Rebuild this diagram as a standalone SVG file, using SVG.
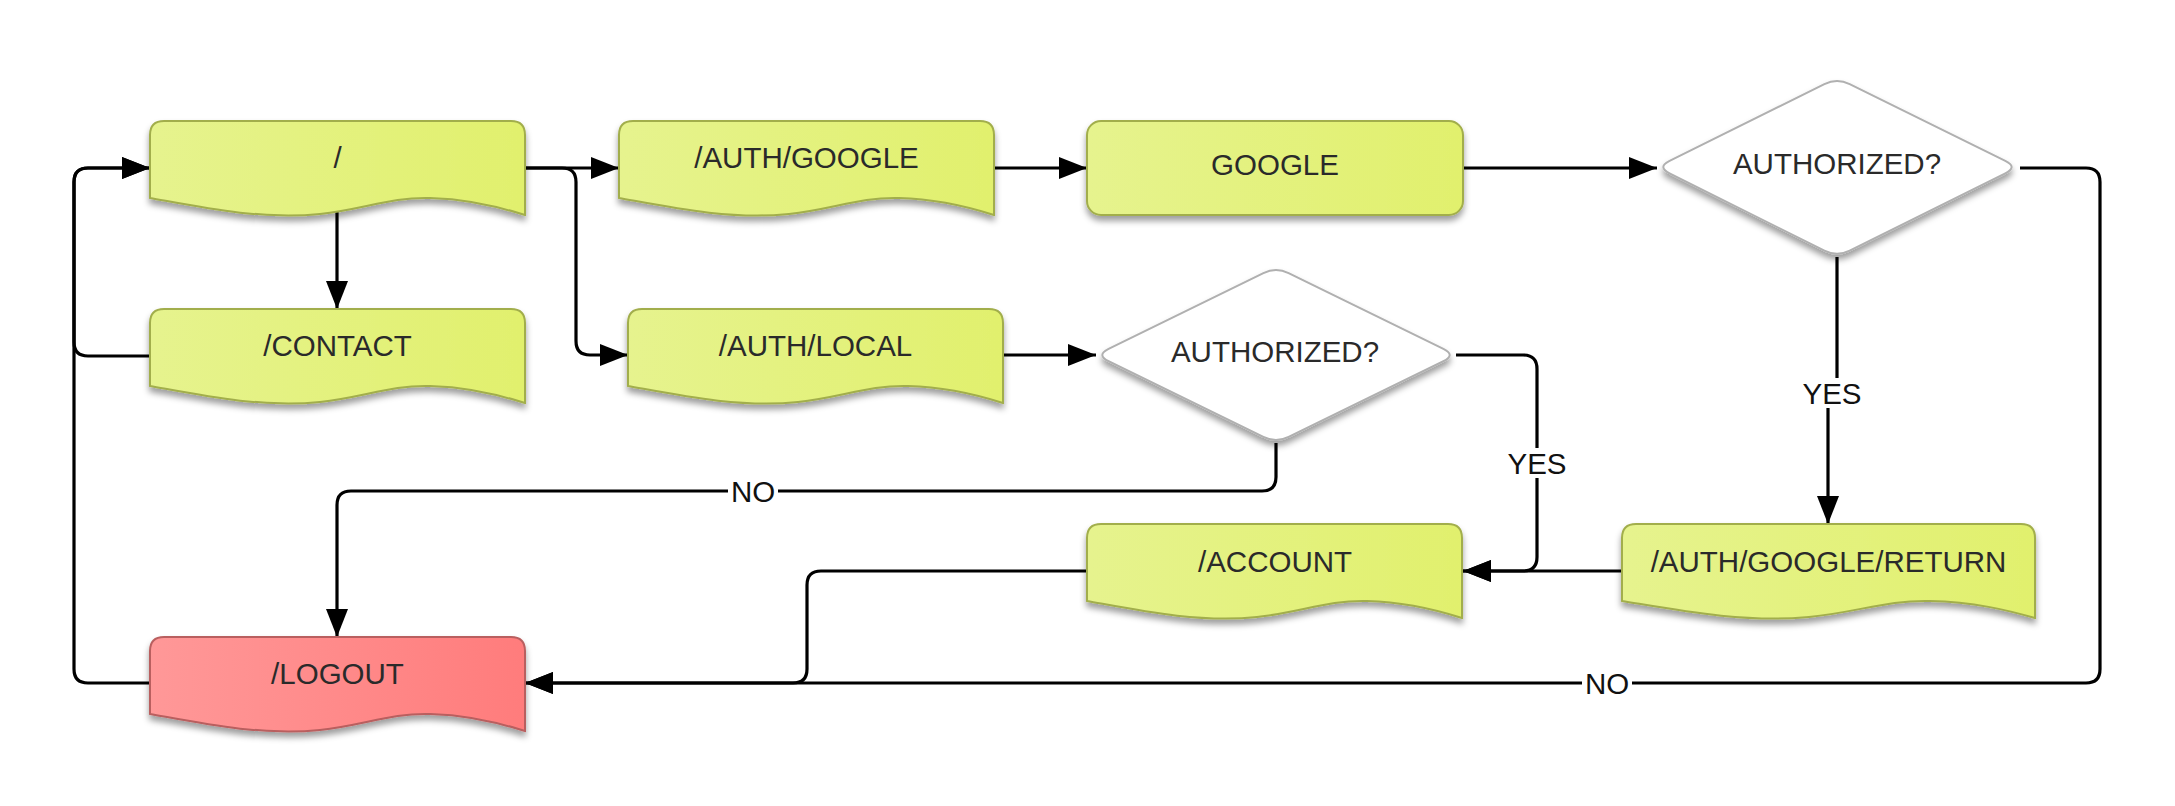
<svg xmlns="http://www.w3.org/2000/svg" width="2175" height="806" viewBox="0 0 2175 806">
<defs>
<style>
.lime{fill:url(#gLime);stroke:#a2ae4c;stroke-width:2;filter:url(#sh)}
.red{fill:url(#gRed);stroke:#b95f5f;stroke-width:2;filter:url(#sh)}
.dia{fill:#ffffff;stroke:#b0b0b0;stroke-width:2;filter:url(#sh)}
.t{font-family:"Liberation Sans",Arial,sans-serif;font-size:29.5px;fill:#2a2a2a;text-anchor:middle}
.lbl{font-family:"Liberation Sans",Arial,sans-serif;font-size:29.5px;fill:#111;text-anchor:middle}
.c{fill:none;stroke:#000;stroke-width:3.2}
.a{marker-end:url(#ah)}
</style>
<linearGradient id="gLime" x1="0" y1="0" x2="1" y2="0">
<stop offset="0" stop-color="#e6f38e"/>
<stop offset="1" stop-color="#e1f06d"/>
</linearGradient>
<linearGradient id="gRed" x1="0" y1="0" x2="1" y2="0">
<stop offset="0" stop-color="#ff9898"/>
<stop offset="1" stop-color="#ff7c7c"/>
</linearGradient>
<filter id="sh" x="-10%" y="-15%" width="120%" height="140%">
<feDropShadow dx="0" dy="5" stdDeviation="3" flood-color="#000" flood-opacity="0.38"/>
</filter>
<marker id="ah" viewBox="0 0 28 22" refX="28" refY="11" markerWidth="28" markerHeight="22" markerUnits="userSpaceOnUse" orient="auto">
<path d="M0,0 L28,11 L0,22 Z" fill="#000"/>
</marker>
<path id="doc" d="M0,14 Q0,0 14,0 H361 Q375,0 375,14 V94 C350,86 320,78 280,77 C240,76 215,88 170,93 C110,99 50,86 0,77 Z"/>
</defs>

<g id="connectors">
<path class="c a" d="M337,208 V309"/>
<path class="c a" d="M525,168 H619"/>
<path class="c a" d="M525,168 H562 Q576,168 576,182 V341 Q576,355 590,355 H628"/>
<path class="c a" d="M994,168 H1087"/>
<path class="c a" d="M1463,168 H1657"/>
<path class="c a" d="M1003,355 H1096"/>
<path class="c a" d="M150,356 H88 Q74,356 74,342 V182 Q74,168 88,168 H150"/>
<path class="c a" d="M150,683 H88 Q74,683 74,669 V182 Q74,168 88,168 H150"/>
<path class="c a" d="M1276,443 V477 Q1276,491 1262,491 H351 Q337,491 337,505 V637"/>
<path class="c a" d="M1456,355 H1523 Q1537,355 1537,369 V557 Q1537,571 1523,571 H1463"/>
<path class="c a" d="M1622,571 H1463"/>
<path class="c a" d="M1837,257 V393 H1828 V524"/>
<path class="c a" d="M1087,571 H821 Q807,571 807,585 V669 Q807,683 793,683 H525"/>
<path class="c a" d="M2020,168 H2086 Q2100,168 2100,182 V669 Q2100,683 2086,683 H525"/>
<rect x="728" y="476" width="50" height="30" fill="#fff"/>
<text class="lbl" x="753" y="502">NO</text>
<rect x="1505" y="448" width="64" height="30" fill="#fff"/>
<text class="lbl" x="1537" y="474">YES</text>
<rect x="1800" y="378" width="64" height="30" fill="#fff"/>
<text class="lbl" x="1832" y="404">YES</text>
<rect x="1582" y="668" width="50" height="30" fill="#fff"/>
<text class="lbl" x="1607" y="694">NO</text>
</g>

<g id="node-root">
<use href="#doc" class="lime" transform="translate(150,121)"/>
<text class="t" x="337.5" y="168">/</text>
</g>
<g id="node-contact">
<use href="#doc" class="lime" transform="translate(150,309)"/>
<text class="t" x="337.5" y="356">/CONTACT</text>
</g>
<g id="node-auth-google">
<use href="#doc" class="lime" transform="translate(619,121)"/>
<text class="t" x="806.5" y="168">/AUTH/GOOGLE</text>
</g>
<g id="node-auth-local">
<use href="#doc" class="lime" transform="translate(628,309)"/>
<text class="t" x="815.5" y="356">/AUTH/LOCAL</text>
</g>
<g id="node-google">
<rect class="lime" x="1087" y="121" width="376" height="94" rx="14" ry="14"/>
<text class="t" x="1275" y="175">GOOGLE</text>
</g>
<g id="node-authorized-google">
<path class="dia" d="M1669.6,160.8 L1824.4,84.2 Q1837,78 1849.7,84.2 L2005.3,160.8 Q2018,167 2005.3,173.3 L1849.7,250.7 Q1837,257 1824.4,250.7 L1669.6,173.3 Q1657,167 1669.6,160.8 Z"/>
<text class="t" x="1837" y="174">AUTHORIZED?</text>
</g>
<g id="node-authorized-local">
<path class="dia" d="M1108.6,348.8 L1263.4,273.2 Q1276,267 1288.6,273.2 L1443.4,348.8 Q1456,355 1443.4,361.2 L1288.6,436.8 Q1276,443 1263.4,436.8 L1108.6,361.2 Q1096,355 1108.6,348.8 Z"/>
<text class="t" x="1275" y="362">AUTHORIZED?</text>
</g>
<g id="node-account">
<use href="#doc" class="lime" transform="translate(1087,524)"/>
<text class="t" x="1275" y="572">/ACCOUNT</text>
</g>
<g id="node-google-return">
<path class="lime" transform="translate(1622,524)" d="M0,14 Q0,0 14,0 H399 Q413,0 413,14 V94 C385,86 352,78 308,77 C264,76 237,88 187,93 C121,99 55,86 0,77 Z"/>
<text class="t" x="1828.5" y="572">/AUTH/GOOGLE/RETURN</text>
</g>
<g id="node-logout">
<use href="#doc" class="red" transform="translate(150,637)"/>
<text class="t" x="337.5" y="684">/LOGOUT</text>
</g>
</svg>
